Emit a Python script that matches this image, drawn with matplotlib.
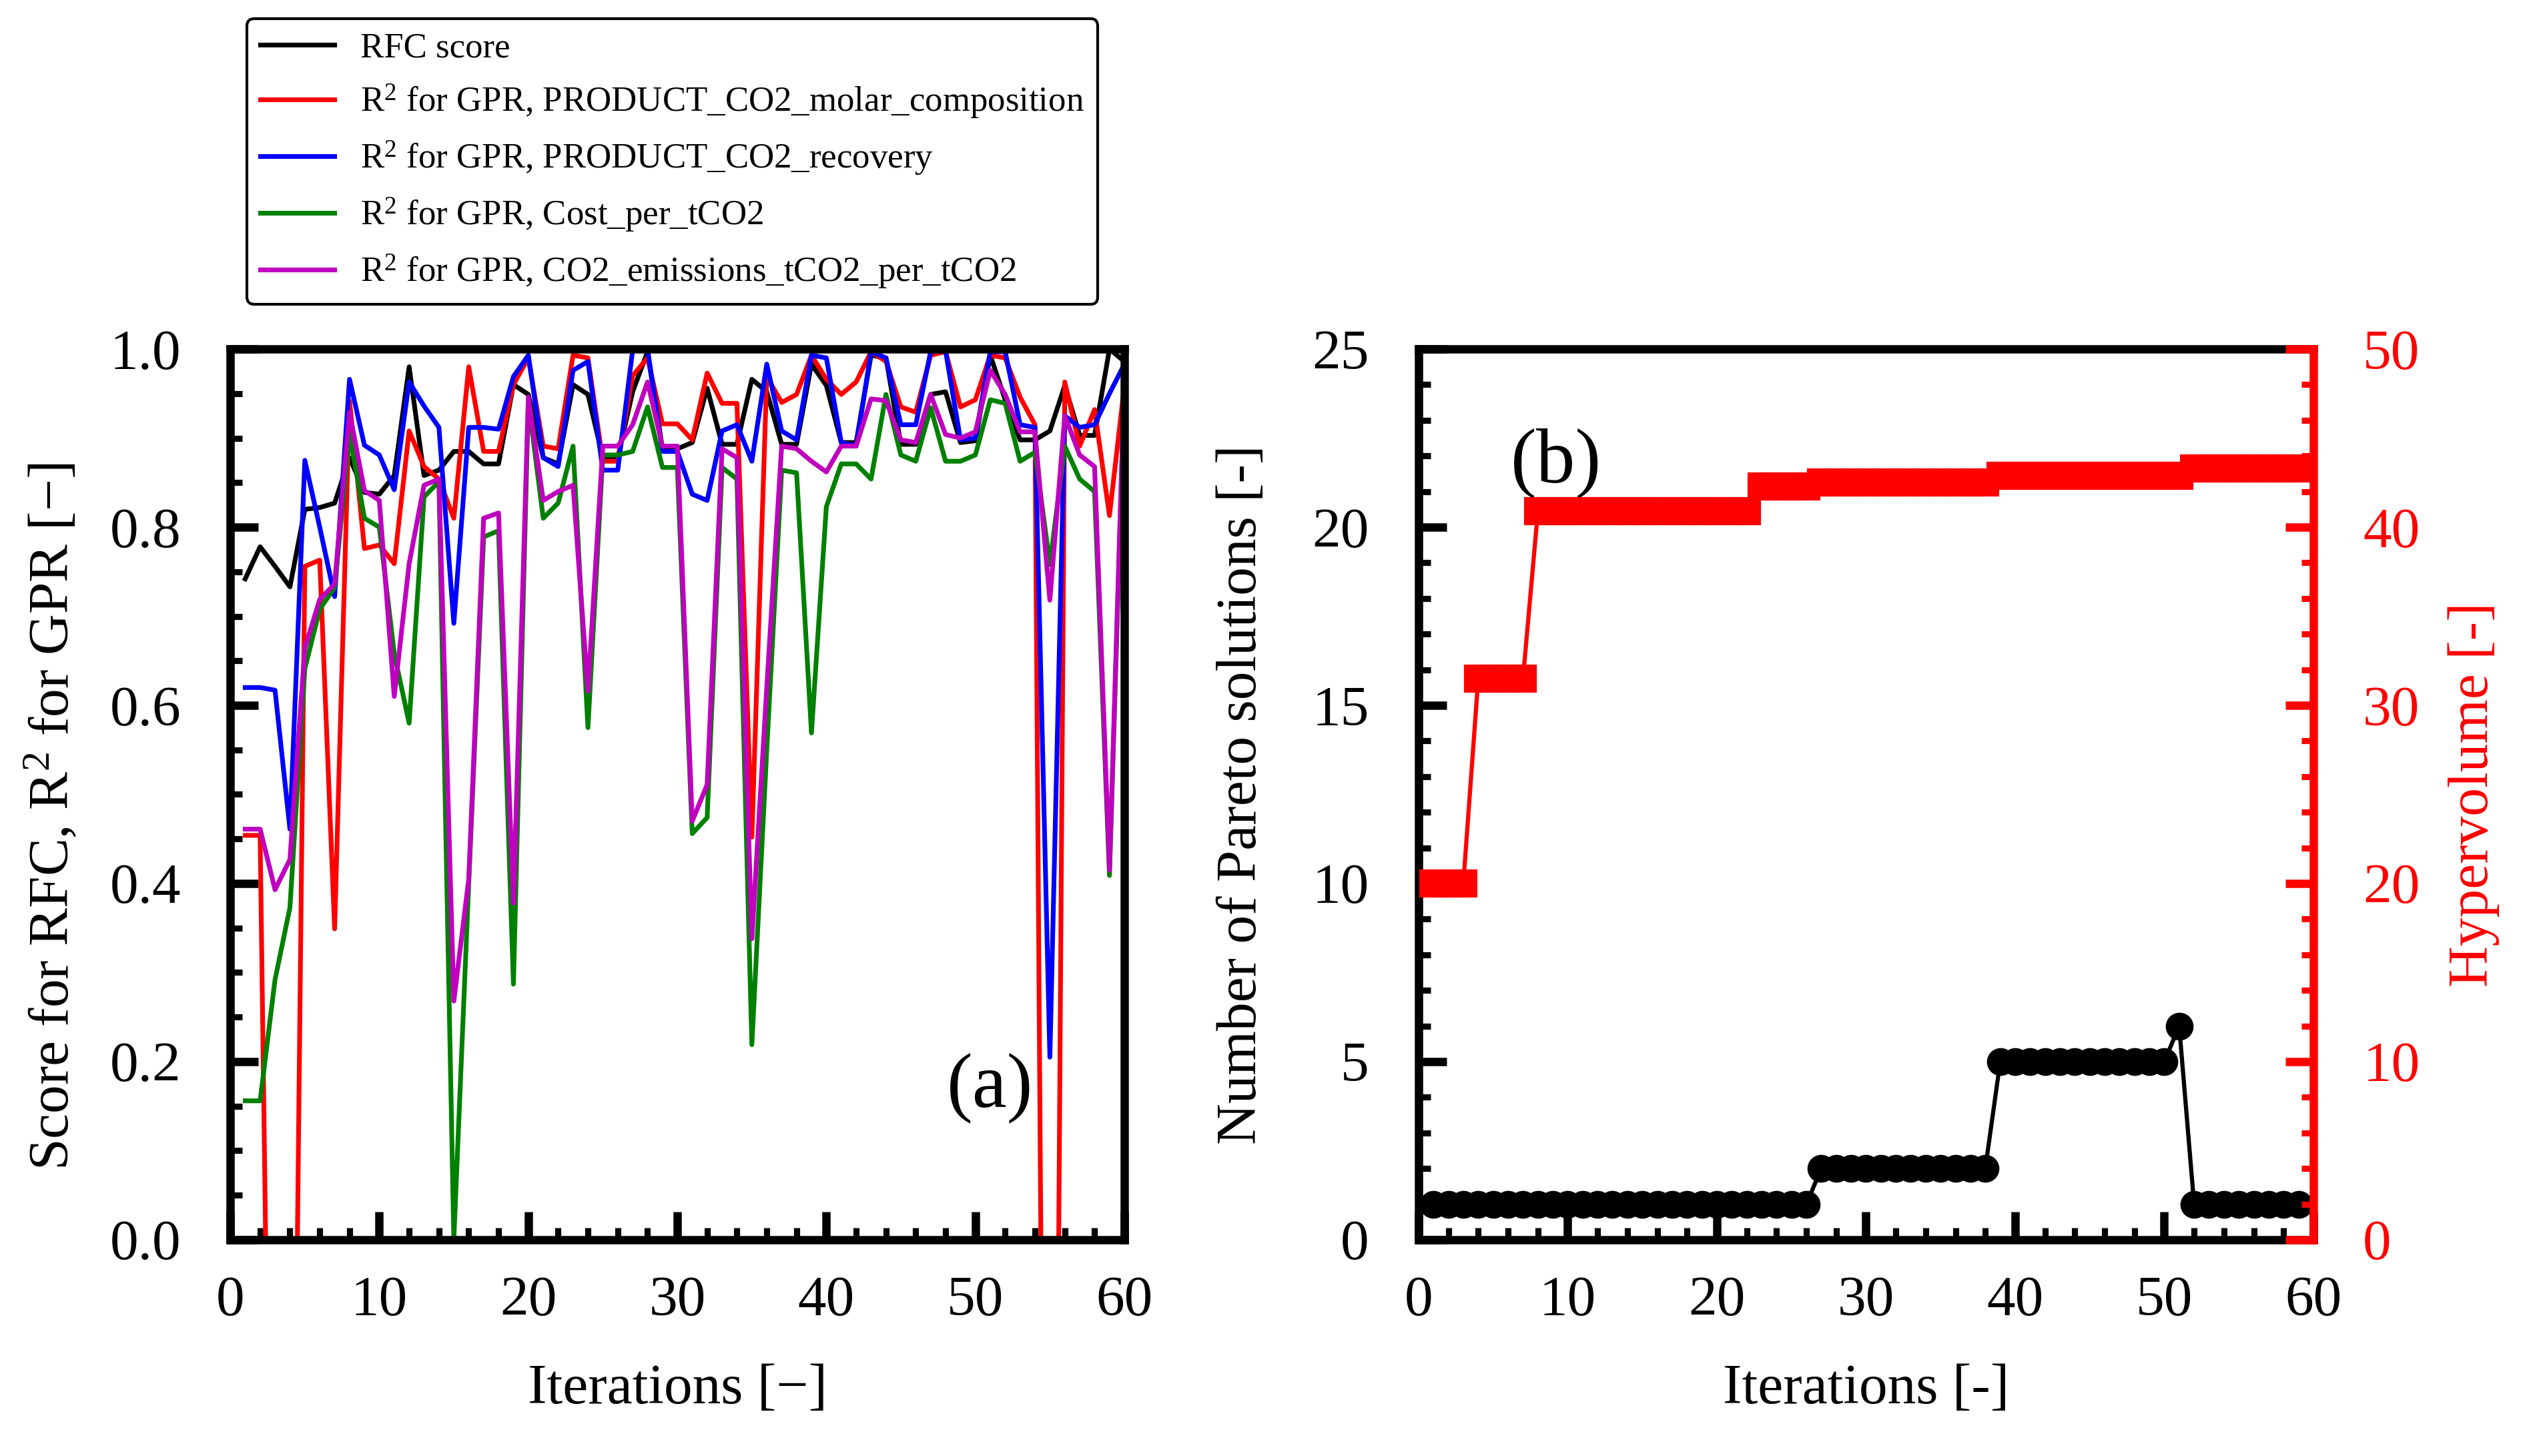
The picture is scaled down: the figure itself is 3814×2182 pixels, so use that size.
import numpy as np
import matplotlib
matplotlib.use('Agg')
from matplotlib import pyplot as plt
from matplotlib.ticker import MultipleLocator, FormatStrFormatter

plt.rcParams.update({'font.family': 'Liberation Serif',
                     'font.size': 20.5,
                     'mathtext.fontset': 'custom',
                     'mathtext.rm': 'Liberation Serif',
                     'mathtext.it': 'Liberation Serif:italic'})

"""
Data (read from the figure)
"""

# (a) scores per iteration, 1..60
iters_a = np.arange(1, 61)
rfc_score = [0.742, 0.778, 0.756, 0.733, 0.820, 0.822, 0.827, 0.878, 0.839, 0.837,
             0.858, 0.980, 0.858, 0.864, 0.885, 0.885, 0.871, 0.871, 0.960, 0.949,
             0.878, 0.871, 0.960, 0.949, 0.878, 0.878, 0.952, 0.997, 0.888, 0.888,
             0.895, 0.956, 0.893, 0.893, 0.966, 0.952, 0.893, 0.893, 0.983, 0.959,
             0.895, 0.895, 0.993, 0.990, 0.893, 0.893, 0.949, 0.952, 0.895, 0.897,
             0.993, 0.943, 0.898, 0.898, 0.908, 0.959, 0.903, 0.903, 1.000, 0.986]
r2_molar = [0.454, 0.454, -0.77, -0.76, 0.756, 0.763, 0.349, 0.942, 0.776, 0.780,
            0.759, 0.908, 0.868, 0.854, 0.810, 0.980, 0.885, 0.885, 0.960, 0.990,
            0.891, 0.888, 0.993, 0.990, 0.874, 0.874, 0.970, 0.990, 0.916, 0.916,
            0.898, 0.973, 0.939, 0.939, 0.452, 0.969, 0.940, 0.949, 0.993, 0.966,
            0.949, 0.963, 0.997, 0.986, 0.935, 0.929, 0.993, 0.997, 0.935, 0.943,
            0.993, 0.990, 0.946, 0.915, -1.40, 0.963, 0.891, 0.932, 0.813, 0.959]
r2_recovery = [0.620, 0.620, 0.617, 0.461, 0.875, 0.800, 0.722, 0.966, 0.892, 0.881,
               0.842, 0.963, 0.936, 0.912, 0.692, 0.912, 0.912, 0.910, 0.969, 0.993,
               0.878, 0.868, 0.976, 0.986, 0.864, 0.864, 0.999, 1.000, 0.885, 0.885,
               0.837, 0.830, 0.908, 0.915, 0.874, 0.983, 0.908, 0.898, 0.993, 0.990,
               0.895, 0.891, 0.997, 0.990, 0.915, 0.915, 0.997, 0.998, 0.898, 0.900,
               0.997, 0.997, 0.915, 0.912, 0.205, 0.925, 0.912, 0.915, 0.950, 0.983]
r2_cost = [0.156, 0.156, 0.292, 0.373, 0.641, 0.708, 0.732, 0.905, 0.810, 0.800,
           0.658, 0.580, 0.834, 0.851, 0.000, 0.400, 0.789, 0.796, 0.287, 0.942,
           0.810, 0.827, 0.891, 0.575, 0.881, 0.881, 0.885, 0.935, 0.867, 0.867,
           0.456, 0.474, 0.867, 0.854, 0.219, 0.550, 0.864, 0.861, 0.569, 0.823,
           0.871, 0.871, 0.854, 0.949, 0.881, 0.874, 0.934, 0.874, 0.874, 0.881,
           0.943, 0.939, 0.874, 0.884, 0.758, 0.891, 0.854, 0.840, 0.409, 0.960]
r2_emissions = [0.461, 0.461, 0.393, 0.427, 0.664, 0.719, 0.736, 0.929, 0.841, 0.830,
                0.610, 0.759, 0.847, 0.854, 0.268, 0.405, 0.810, 0.816, 0.378, 0.946,
                0.830, 0.840, 0.847, 0.616, 0.891, 0.891, 0.915, 0.963, 0.891, 0.891,
                0.470, 0.511, 0.888, 0.878, 0.338, 0.620, 0.891, 0.888, 0.874, 0.862,
                0.891, 0.891, 0.944, 0.942, 0.898, 0.895, 0.949, 0.904, 0.900, 0.907,
                0.976, 0.949, 0.907, 0.907, 0.718, 0.925, 0.881, 0.868, 0.415, 0.970]

labels_a = ['RFC score',
            r'$\mathrm{R}^2$ for GPR, PRODUCT_CO2_molar_composition',
            r'$\mathrm{R}^2$ for GPR, PRODUCT_CO2_recovery',
            r'$\mathrm{R}^2$ for GPR, Cost_per_tCO2',
            r'$\mathrm{R}^2$ for GPR, CO2_emissions_tCO2_per_tCO2']
colors_a = ['k', 'r', 'b', 'g', 'm']

# (b) pareto front size and hypervolume, 1..59
iters_b = np.arange(1, 60)
n_pareto = [1]*26 + [2]*12 + [5]*12 + [6] + [1]*8
hypervolume = [20.0]*3 + [31.5]*4 + [40.9]*15 + [42.3]*4 + [42.5]*12 + [42.9]*13 + [43.3]*8

"""
Plotting
"""

fig = plt.figure(figsize=(3814/300, 2182/300), dpi=300)
ax1 = fig.add_axes([0.0905, 0.1485, 0.3513, 0.6118])
ax2 = fig.add_axes([0.5574, 0.1485, 0.3516, 0.6118])


def style_axes(ax):
    for s in ax.spines.values():
        s.set_linewidth(3)
    ax.tick_params(which='both', direction='in', top=False, right=False)
    ax.tick_params(which='major', length=10, width=3)
    ax.tick_params(which='minor', length=4.3, width=2.2)
    ax.tick_params(axis='y', which='both', pad=17.8)
    ax.tick_params(axis='x', which='both', pad=13)


#Fig (a) : scores vs iterations

series_a = [rfc_score, r2_molar, r2_recovery, r2_cost, r2_emissions]
for vals, c, lab in zip(series_a, colors_a, labels_a):
    ax1.plot(iters_a, vals, '-', color=c, lw=1.7, label=lab)
ax1.set_xlim(0, 60)
ax1.set_ylim(0, 1)
ax1.xaxis.set_major_locator(MultipleLocator(10))
ax1.xaxis.set_minor_locator(MultipleLocator(2))
ax1.yaxis.set_major_locator(MultipleLocator(0.2))
ax1.yaxis.set_minor_locator(MultipleLocator(0.05))
ax1.yaxis.set_major_formatter(FormatStrFormatter('%.1f'))
style_axes(ax1)
ax1.set_xlabel('Iterations [\u2212]')
ax1.set_ylabel(r'Score for RFC, $\mathrm{R}^2$ for GPR [' + '\u2212]')
ax1.xaxis.set_label_coords(0.5, -0.139)
ax1.yaxis.set_label_coords(-0.168, 0.475)
ax1.text(51.0, 0.171, '(a)', fontsize=28, ha='center', va='center')

fig.legend(loc='upper left', bbox_to_anchor=(0.097, 0.987), bbox_transform=fig.transFigure,
           borderaxespad=0, fontsize=12.7, frameon=True, edgecolor='k', fancybox=True,
           framealpha=1, handlelength=2.1, handletextpad=0.74, labelspacing=0.52,
           borderpad=0.38)

#Fig (b) : pareto solutions and hypervolume

ax2.plot(iters_b, n_pareto, '-o', color='k', lw=1.5, ms=9, mew=1)
ax2.set_xlim(0, 60)
ax2.set_ylim(0, 25)
ax2.xaxis.set_major_locator(MultipleLocator(10))
ax2.xaxis.set_minor_locator(MultipleLocator(2))
ax2.yaxis.set_major_locator(MultipleLocator(5))
ax2.yaxis.set_minor_locator(MultipleLocator(1))
style_axes(ax2)
ax2.spines['right'].set_visible(False)
ax2.set_xlabel('Iterations [-]')
ax2.set_ylabel('Number of Pareto solutions [-]')
ax2.xaxis.set_label_coords(0.5, -0.139)
ax2.yaxis.set_label_coords(-0.1685, 0.5)
ax2.text(9.2, 21.8, '(b)', fontsize=28, ha='center', va='center')

ax2r = ax2.twinx()
ax2r.plot(iters_b, hypervolume, '-s', color='r', lw=1.5, ms=9, mew=1)
ax2r.set_ylim(0, 50)
ax2r.yaxis.set_major_locator(MultipleLocator(10))
ax2r.yaxis.set_minor_locator(MultipleLocator(2))
for side in ['left', 'top', 'bottom']:
    ax2r.spines[side].set_visible(False)
ax2r.spines['right'].set_color('r')
ax2r.spines['right'].set_linewidth(3)
ax2r.tick_params(axis='y', which='both', direction='in', colors='r', pad=17.8)
ax2r.tick_params(axis='y', which='major', length=10, width=3)
ax2r.tick_params(axis='y', which='minor', length=4.3, width=2.2)
ax2r.set_ylabel('Hypervolume [-]', color='r')
ax2r.yaxis.set_label_coords(1.1506, 0.5)

fig.savefig('out.png', dpi=300)
